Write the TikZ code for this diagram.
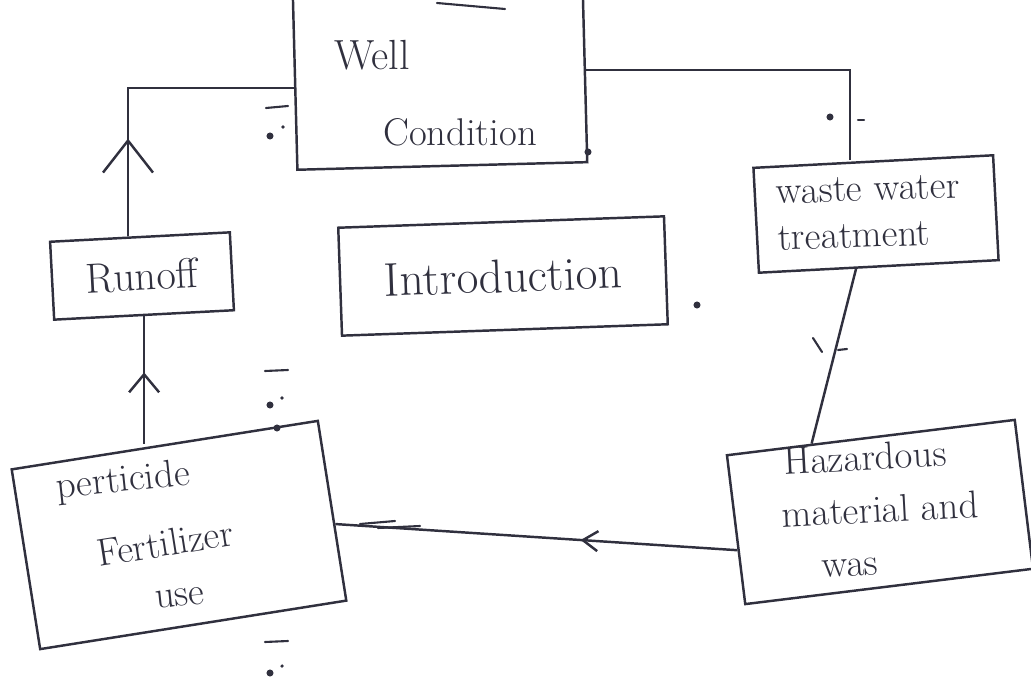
\documentclass[tikz,border=0pt]{standalone}
\usepackage{xcolor}
\usepackage{tikz}
\usetikzlibrary{arrows.meta}
\usetikzlibrary{decorations.markings}
\definecolor{ink}{RGB}{48,48,62}
\tikzset{box/.style={draw=ink,line width=1.4pt,inner sep=0pt},
         hand/.style={text=ink,inner sep=1pt,font=\fontsize{22}{26}\selectfont},
         flow/.style={draw=ink,line width=1.4pt},
         scrib/.style={draw=ink,line width=1.2pt,line cap=round},
         barb/.style n args={3}{postaction={decorate},
           decoration={markings,mark=at position #1 with
             {\arrow[line width=1.4pt,ink]{Straight Barb[length=#2,width=#3]}}}}}

\begin{document}
\begin{tikzpicture}[x=0.02cm,y=-0.02cm]
\useasboundingbox (0,0) rectangle (1031,682);
% boxes
\node[box,minimum width=5.8cm,minimum height=3.56cm,rotate=1.5] (well) at (440,77) {};
\node[box,minimum width=4.8cm,minimum height=2.1cm,rotate=3] (waste) at (876,214) {};
\node[box,minimum width=6.52cm,minimum height=2.16cm,rotate=2,text=ink,
      font=\fontsize{27}{30}\selectfont] (intro) at (503,276) {Introduction};
\node[box,minimum width=3.6cm,minimum height=1.56cm,rotate=3,text=ink,
      font=\fontsize{24}{28}\selectfont] (runoff) at (142,276) {Runoff};
\node[box,minimum width=6.2cm,minimum height=3.64cm,rotate=9] (pest) at (179,535) {};
\node[box,minimum width=5.8cm,minimum height=3cm,rotate=7] (haz) at (880,512) {};
% texts
\node[hand,font=\fontsize{24}{28}\selectfont] (wellA) at (372,55) {Well};
\node[hand] (wellB) at (460,132) {Condition};
\node[hand,rotate=2] (wasteA) at (868,189) {waste water};
\node[hand,rotate=2] (wasteB) at (854,236) {treatment};
\node[hand,rotate=3] (hazA) at (865,457) {Hazardous};
\node[hand,rotate=3] (hazB) at (880,509) {material and};
\node[hand,rotate=3] (hazC) at (850,568) {was};
\node[hand,rotate=6] (pestA) at (123,482) {perticide};
\node[hand,rotate=9] (pestB) at (165,543) {Fertilizer};
\node[hand,rotate=6] (pestC) at (180,598) {use};
% connectors
\coordinate (bendL) at (128,88);
\coordinate (bendR) at (850,70);
\draw[flow,barb={0.31}{0.64cm}{1cm}] (runoff.north -| bendL) -- (bendL) -- (well.west |- bendL);
\draw[flow,barb={0.56}{0.36cm}{0.6cm}] (pest.north -| runoff.south) -- (runoff.south);
\draw[flow] (well.east |- bendR) -- (bendR) -- (waste.north -| bendR);
\draw[flow] (waste.-113) -- (haz.128);
\draw[flow,barb={0.39}{0.3cm}{0.4cm}] (haz.188) -- (pest.355);
% stray marks
\draw[scrib] (437,3) -- (505,9);
\draw[scrib] (266,108) -- (288,106);
\fill[ink] (270,136) circle[radius=2pt];
\fill[ink] (283,127) circle[radius=1pt];
\draw[scrib] (265,371) -- (288,370);
\fill[ink] (270,405) circle[radius=2pt];
\fill[ink] (282,398) circle[radius=1pt];
\draw[scrib] (265,642) -- (288,641);
\fill[ink] (270,673) circle[radius=2pt];
\fill[ink] (282,666) circle[radius=1pt];
\fill[ink] (830,117) circle[radius=2pt];
\draw[scrib] (858,120) -- (864,120);
\draw[scrib] (813,338) -- (822,352);
\draw[scrib] (838,350) -- (847,349);
\draw[scrib] (360,524) -- (395,521);
\draw[scrib] (378,528) -- (420,526);
\fill[ink] (588,152) circle[radius=2pt];
\fill[ink] (697,305) circle[radius=2pt];
\fill[ink] (277,428) circle[radius=2pt];
\end{tikzpicture}
\end{document}
